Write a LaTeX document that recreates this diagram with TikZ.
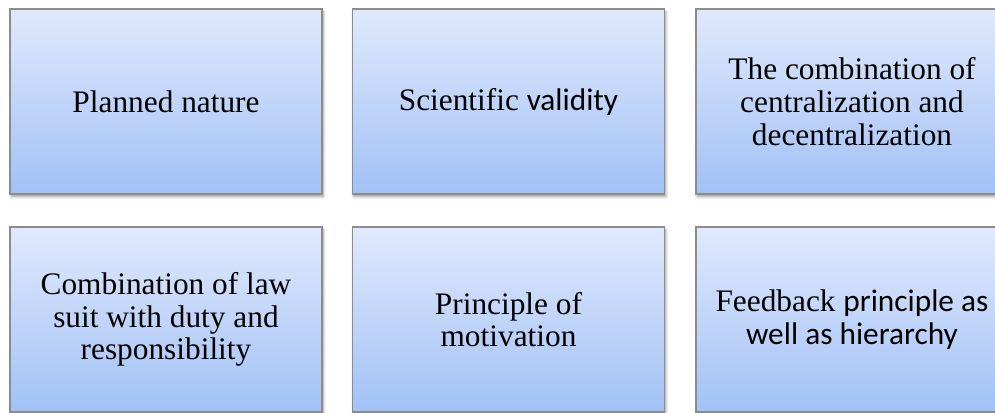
\documentclass[tikz,border=0pt]{standalone}
\usepackage{fontspec}
\setmainfont{Liberation Serif}
\newfontfamily\calib{Carlito}
\usetikzlibrary{shadows.blur}
\definecolor{boxtop}{RGB}{224,233,252}
\definecolor{boxbot}{RGB}{162,193,246}
\definecolor{boxline}{RGB}{140,140,140}
\tikzset{
  pbox/.style={rectangle, draw=boxline, line width=1pt,
    top color=boxtop, bottom color=boxbot,
    minimum width=234pt, minimum height=138.75pt, inner sep=0pt,
    align=center, text=black,
    font=\fontsize{23.5}{24.5}\selectfont,
    blur shadow={shadow xshift=1pt, shadow yshift=-2pt, shadow blur steps=6,
      shadow blur radius=2pt, shadow opacity=40}}
}
\begin{document}
\begin{tikzpicture}[x=0.75pt, y=-0.75pt]
\useasboundingbox (0,0) rectangle (995,412);
\clip (0,0) rectangle (995,412);
\node[pbox] (a) at (166,101.5) {Planned nature};
\node[pbox] (b) at (508.5,101.5) {Scientific {\calib validity}};
\node[pbox] (c) at (852,101.5) {The combination of\\centralization and\\decentralization};
\node[pbox] (d) at (166,319.5) {Combination of law\\suit with duty and\\responsibility};
\node[pbox] (e) at (508.5,319.5) {Principle of\\motivation};
\node[pbox] (f) at (852,319.5) {Feedback {\calib principle as}\\{\calib well as hierarchy}};
\end{tikzpicture}
\end{document}
